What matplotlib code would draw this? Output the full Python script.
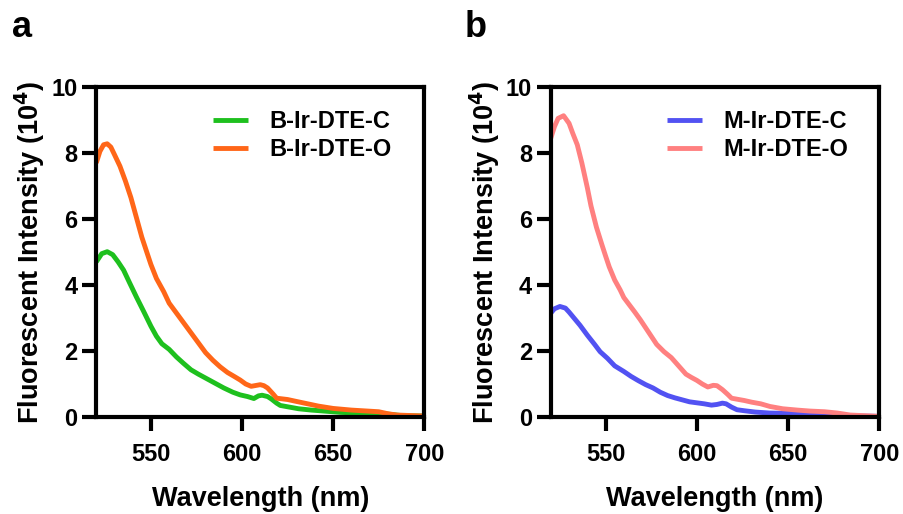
import matplotlib
matplotlib.use('Agg')
import matplotlib.pyplot as plt

plt.rcParams['font.family'] = ['Liberation Sans', 'DejaVu Sans']
plt.rcParams['font.weight'] = 'bold'
plt.rcParams['mathtext.default'] = 'bf'

# Emission spectra, intensity in units of 10^4
wl_b_c = [520, 523, 526, 529, 532, 535, 538, 542, 546, 550, 553, 556, 560, 564, 568,
          572, 576, 581, 586, 590, 595, 599, 603, 606.5, 609, 611, 614, 616, 619, 621,
          626, 631, 638, 645, 654, 664, 672, 678, 683, 688, 700]
int_b_c = [4.70, 4.95, 5.01, 4.92, 4.70, 4.45, 4.10, 3.64, 3.20, 2.75, 2.45, 2.22, 2.05,
           1.82, 1.62, 1.43, 1.30, 1.15, 1.00, 0.88, 0.75, 0.67, 0.62, 0.56, 0.64, 0.66,
           0.62, 0.55, 0.42, 0.35, 0.30, 0.25, 0.21, 0.18, 0.14, 0.12, 0.11, 0.10, 0.07,
           0.04, 0.03]

wl_b_o = [520, 522, 524, 526, 528, 530, 533, 536, 539, 542, 545, 548, 550, 553, 557, 560,
          564, 568, 572, 576, 580, 584, 588, 592, 596, 599, 602, 605, 607, 610, 612, 614,
          617, 619, 622, 625, 630, 636, 642, 650, 660, 669, 675, 680, 685, 700]
int_b_o = [7.70, 8.05, 8.25, 8.28, 8.18, 7.95, 7.60, 7.15, 6.65, 6.05, 5.45, 4.95, 4.62,
           4.20, 3.80, 3.45, 3.15, 2.85, 2.55, 2.25, 1.95, 1.72, 1.52, 1.35, 1.22, 1.12,
           1.00, 0.93, 0.95, 0.98, 0.95, 0.88, 0.70, 0.57, 0.55, 0.53, 0.47, 0.40, 0.33,
           0.26, 0.21, 0.18, 0.16, 0.10, 0.06, 0.03]

wl_m_c = [520, 522, 525, 528, 530, 533, 536, 540, 544, 547, 551, 555, 560, 564, 568, 572,
          576, 580, 584, 588, 592, 596, 600, 604, 608, 611, 614, 616, 619, 622, 626, 632,
          640, 650, 660, 670, 680, 690, 700]
int_m_c = [3.15, 3.28, 3.35, 3.30, 3.18, 2.98, 2.78, 2.48, 2.20, 1.98, 1.78, 1.55, 1.38,
           1.23, 1.10, 0.98, 0.88, 0.75, 0.65, 0.58, 0.52, 0.46, 0.43, 0.40, 0.36, 0.38,
           0.42, 0.40, 0.30, 0.22, 0.19, 0.15, 0.12, 0.11, 0.10, 0.07, 0.05, 0.03, 0.02]

wl_m_o = [520, 522, 524, 527, 530, 532, 534.5, 537, 540, 542, 545, 548, 550, 552, 555, 558,
          560, 563, 566, 569, 572, 575, 578, 582, 586, 590, 594, 597, 600, 603, 606, 609,
          611, 614, 617, 619, 622, 626, 630, 635, 640, 647, 655, 662, 670, 677, 684, 700]
int_m_o = [8.45, 8.80, 9.05, 9.13, 8.90, 8.60, 8.25, 7.70, 6.95, 6.40, 5.75, 5.22, 4.88,
           4.55, 4.15, 3.85, 3.62, 3.40, 3.18, 2.95, 2.70, 2.45, 2.20, 1.98, 1.80, 1.55,
           1.30, 1.20, 1.11, 1.00, 0.91, 0.96, 0.95, 0.83, 0.68, 0.57, 0.54, 0.50, 0.45,
           0.40, 0.32, 0.25, 0.21, 0.18, 0.16, 0.12, 0.06, 0.02]

panels = [
    ('a', [(wl_b_c, int_b_c, 'B-Ir-DTE-C', '#1EC01E'),
           (wl_b_o, int_b_o, 'B-Ir-DTE-O', '#FF6618')]),
    ('b', [(wl_m_c, int_m_c, 'M-Ir-DTE-C', '#5252F2'),
           (wl_m_o, int_m_o, 'M-Ir-DTE-O', '#FF8080')]),
]
x_ticks = [550, 600, 650, 700]
y_ticks = [0, 2, 4, 6, 8, 10]

fig = plt.figure(figsize=(9.04, 5.14), dpi=100)
axes_rects = [[0.1065, 0.1887, 0.3628, 0.642], [0.6093, 0.1887, 0.3635, 0.642]]
letter_x = [0.013, 0.514]

for (letter, series), rect, lx in zip(panels, axes_rects, letter_x):
    ax = fig.add_axes(rect)
    for wl, inten, name, color in series:
        ax.plot(wl, inten, color=color, lw=3.5, label=name, solid_capstyle='butt')
    ax.set_xlim(520, 700)
    ax.set_ylim(0, 10)
    ax.set_xticks(x_ticks)
    ax.set_yticks(y_ticks)
    for sp in ax.spines.values():
        sp.set_linewidth(3.0)
        sp.set_zorder(5)
    ax.tick_params(axis='both', direction='out', length=10, width=3.0, labelsize=17)
    ax.tick_params(axis='x', pad=9)
    ax.tick_params(axis='y', pad=3.5)
    ax.set_xlabel('Wavelength (nm)', fontsize=19.5, fontweight='bold', labelpad=14)
    ax.set_ylabel('Fluorescent Intensity (10$^{4}$)', fontsize=19.5, fontweight='bold',
                  labelpad=3)
    ax.legend(loc='upper left', bbox_to_anchor=(0.355, 0.93), frameon=False,
              handlelength=1.48, handletextpad=0.9, labelspacing=0.2,
              borderpad=0, borderaxespad=0,
              prop={'weight': 'bold', 'size': 17})
    fig.text(lx, 0.928, letter, fontsize=26, fontweight='bold', ha='left',
             va='baseline')

fig.savefig('out.png', dpi=100, facecolor='white')
